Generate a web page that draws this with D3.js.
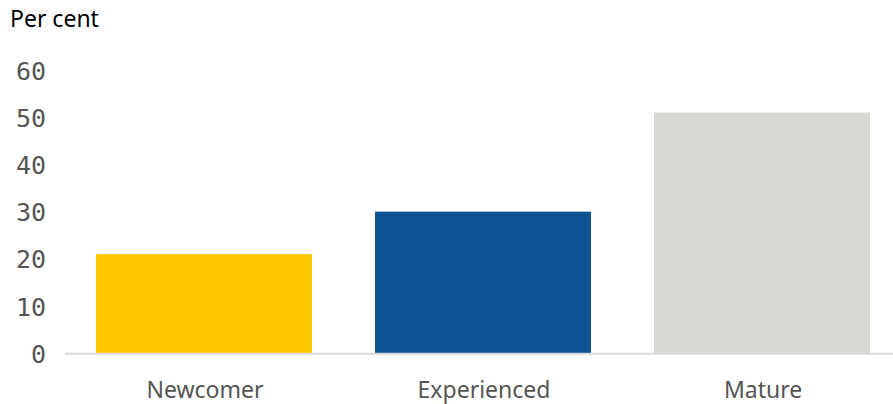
<!DOCTYPE html>
<html>
<head>
<meta charset="utf-8">
<script src="https://cdn.jsdelivr.net/npm/d3@7"></script>
<style>
  html, body { margin: 0; padding: 0; background: #fff; }
  svg { display: block; }
</style>
</head>
<body>
<svg id="chart" width="893" height="404"></svg>
<script>
// Share of firms by experience group, per cent
const categories = ["Newcomer", "Experienced", "Mature"];
const values = [21, 30, 51];
const colors = ["#fdc800", "#0f5291", "#d8d8d4"];
const yTicks = [0, 10, 20, 30, 40, 50, 60];

const svg = d3.select("#chart");
const W = 893, H = 404;

const x = d3.scaleBand()
  .domain(categories)
  .range([65, 901])
  .paddingInner(0.226)
  .paddingOuter(0.111);

const y = d3.scaleLinear()
  .domain([0, 60])
  .range([353.3, 70]);

// Bars
svg.append("g")
  .selectAll("rect")
  .data(values)
  .join("rect")
  .attr("x", (d, i) => x(categories[i]))
  .attr("width", x.bandwidth())
  .attr("y", d => y(d))
  .attr("height", d => y(0) - y(d))
  .attr("fill", (d, i) => colors[i]);

// Baseline
svg.append("line")
  .attr("x1", 65).attr("x2", W)
  .attr("y1", y(0) + 0.5).attr("y2", y(0) + 0.5)
  .attr("stroke", "#d9d9d9")
  .attr("stroke-width", 2);

// Y axis labels
const yAxis = d3.axisLeft(y).tickValues(yTicks).tickSize(0).tickPadding(0);
const gy = svg.append("g").attr("transform", "translate(46,0)").call(yAxis);
gy.select(".domain").remove();
gy.selectAll("text")
  .attr("dy", "0.36em")
  .attr("font-family", "'DejaVu Sans Mono', monospace")
  .attr("font-size", 25)
  .attr("fill", "#555");

// X axis labels
const xAxis = d3.axisBottom(x).tickSize(0).tickPadding(0);
const gx = svg.append("g").attr("transform", "translate(1,398)").call(xAxis);
gx.select(".domain").remove();
gx.selectAll("text")
  .attr("dy", 0)
  .attr("font-family", "'Noto Sans', sans-serif")
  .attr("font-size", 23)
  .attr("fill", "#555");

// Unit label
svg.append("text")
  .attr("x", 10).attr("y", 27)
  .attr("font-family", "'Noto Sans', sans-serif")
  .attr("font-size", 23)
  .attr("fill", "#000")
  .text("Per cent");
</script>
</body>
</html>
